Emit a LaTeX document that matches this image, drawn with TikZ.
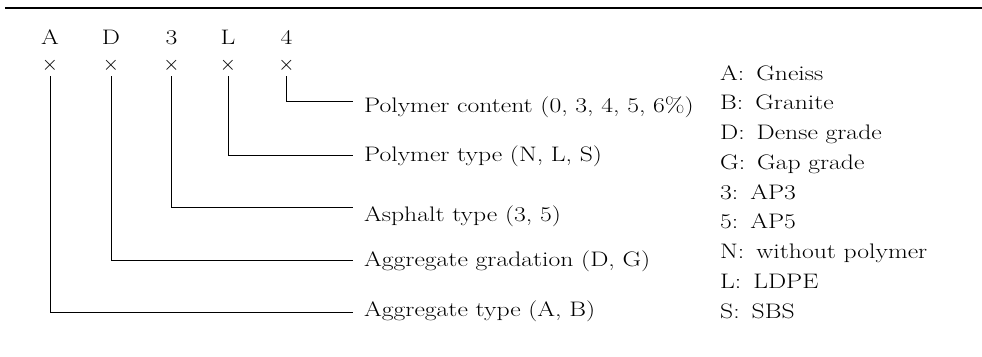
\documentclass[tikz,border=0pt]{standalone}
\usepackage{graphicx}
\usepackage{fontspec}
\setmainfont{Latin Modern Roman}
\newcommand{\wx}[1]{\scalebox{1.22}[1]{#1}}
\begin{document}
\begin{tikzpicture}[x=1pt,y=-1pt,
  every node/.style={font=\fontsize{21}{25}\selectfont, inner sep=0pt},
  ln/.style={line width=0.9pt},
  code/.style={anchor=base},
  lbl/.style={anchor=base west},
  leg/.style={anchor=base west}]
\useasboundingbox (0,0) rectangle (982,356);
\draw[line width=2.5pt] (5,8) -- (982,8);
% code letters
\node[code] (cA) at (50,44.7) {\wx{A}};
\node[code] (cD) at (111,44.7) {\wx{D}};
\node[code] (c3) at (171.5,44.7) {\wx{3}};
\node[code] (cL) at (228,44.7) {\wx{L}};
\node[code] (c4) at (286.5,44.7) {\wx{4}};
% crosses
\node (xA) at (50,65.5) {$\times$};
\node (xD) at (111,65.5) {$\times$};
\node (x3) at (171.5,65.5) {$\times$};
\node (xL) at (228,65.5) {$\times$};
\node (x4) at (286.5,65.5) {$\times$};
% line start / end points
\coordinate (tA) at (50,76);
\coordinate (tD) at (111,76);
\coordinate (t3) at (171.5,76);
\coordinate (tL) at (228,76);
\coordinate (t4) at (286.5,76);
\coordinate (e4) at (353,101);
\coordinate (eL) at (353,155);
\coordinate (e3) at (353,207);
\coordinate (eD) at (353,260);
\coordinate (eA) at (353,312);
\draw[ln] (t4) |- (e4);
\draw[ln] (tL) |- (eL);
\draw[ln] (t3) |- (e3);
\draw[ln] (tD) |- (eD);
\draw[ln] (tA) |- (eA);
% labels
\node[lbl] (l4) at (364,112.7) {\wx{Polymer content (0, 3, 4, 5, 6\%)}};
\node[lbl] (lL) at (364,161) {\wx{Polymer type (N, L, S)}};
\node[lbl] (l3) at (364,221) {\wx{Asphalt type (3, 5)}};
\node[lbl] (lD) at (364,266) {\wx{Aggregate gradation (D, G)}};
\node[lbl] (lA) at (364,316) {\wx{Aggregate type (A, B)}};
% legend
\node[leg] (g1) at (720,80) {\wx{A:\,\ Gneiss}};
\node[leg] (g2) at (720,109.75) {\wx{B:\,\ Granite}};
\node[leg] (g3) at (720,139.5) {\wx{D:\,\ Dense grade}};
\node[leg] (g4) at (720,169.25) {\wx{G:\,\ Gap grade}};
\node[leg] (g5) at (720,199) {\wx{3:\,\ AP3}};
\node[leg] (g6) at (720,228.75) {\wx{5:\,\ AP5}};
\node[leg] (g7) at (720,258.5) {\wx{N:\,\ without polymer}};
\node[leg] (g8) at (720,288.25) {\wx{L:\,\ LDPE}};
\node[leg] (g9) at (720,318) {\wx{S:\,\ SBS}};
\end{tikzpicture}
\end{document}
